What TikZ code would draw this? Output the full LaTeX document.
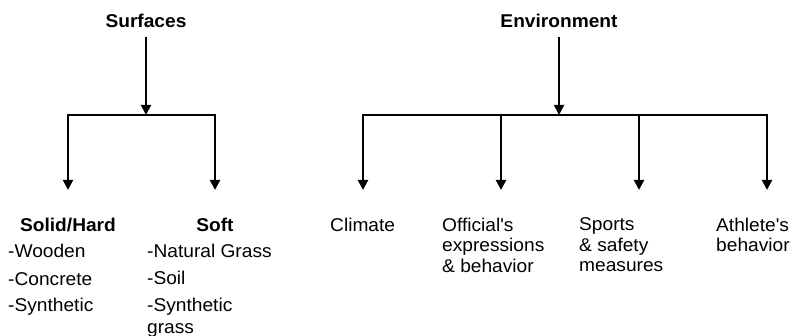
\documentclass[tikz,border=0pt]{standalone}
\usepackage{fontspec}
\setmainfont[FakeStretch=1.035]{Liberation Sans}
\usetikzlibrary{arrows.meta}
\begin{document}
\begin{tikzpicture}[x=1pt,y=-1pt,
  conn/.style={line width=2pt},
  bar/.style={conn,line cap=rect},
  arr/.style={conn,-{Triangle[width=10pt,length=10pt]}},
  head/.style={font=\fontsize{18.5}{20.5}\selectfont\bfseries,inner sep=0pt},
  lab/.style={font=\fontsize{18.5}{20.5}\selectfont,inner sep=0pt,align=left},
]
\useasboundingbox (0,0) rectangle (795,336);

% ---- Surfaces tree ----
\node[head] (surf) at (146,21) {Surfaces};
\coordinate (sj) at (146,115);
\coordinate (sl) at (68,115);
\coordinate (sr) at (215,115);
\draw[arr,shorten <=9pt] (surf) -- (sj);
\draw[bar] (sl) -- (sr);

\node[head,anchor=north] (hard) at (68,218) {Solid/Hard};
\node[head,anchor=north] (soft) at (215,218) {Soft};
\draw[arr,shorten >=28pt] (sl) -- (hard.north);
\draw[arr,shorten >=28pt] (sr) -- (soft.north);

\node[lab,anchor=base west] (wood) at (8,258) {-Wooden};
\node[lab,anchor=base west] (conc) at (8,285.5) {-Concrete};
\node[lab,anchor=base west] (synh) at (8,312) {-Synthetic};
\node[lab,anchor=base west] (grass) at (147,257.5) {-Natural Grass};
\node[lab,anchor=base west] (soil) at (147,285) {-Soil};
\node[lab,anchor=north west,font=\fontsize{18.5}{22.5}\selectfont] (syns) at (147,297.5) {-Synthetic\\grass};

% ---- Environment tree ----
\node[head] (env) at (559,21) {Environment};
\coordinate (ej) at (559,115);
\coordinate (e1) at (363,115);
\coordinate (e2) at (501,115);
\coordinate (e3) at (639,115);
\coordinate (e4) at (767,115);
\draw[arr,shorten <=9pt] (env) -- (ej);
\draw[bar] (e1) -- (e4);

\node[lab,anchor=north west] (clim) at (330,217.5) {Climate};
\node[lab,anchor=north west] (offi) at (442,217.5) {Official\textquotesingle s\\expressions\\\& behavior};
\node[lab,anchor=north west] (spor) at (579,217.5) {Sports\\\& safety\\measures};
\node[lab,anchor=north west] (athl) at (716,217.5) {Athlete\textquotesingle s\\behavior};

\draw[arr,shorten >=27.5pt] (e1) -- (e1 |- clim.north);
\draw[arr,shorten >=27.5pt] (e2) -- (e2 |- offi.north);
\draw[arr,shorten >=27.5pt] (e3) -- (e3 |- spor.north);
\draw[arr,shorten >=27.5pt] (e4) -- (e4 |- athl.north);
\end{tikzpicture}
\end{document}
